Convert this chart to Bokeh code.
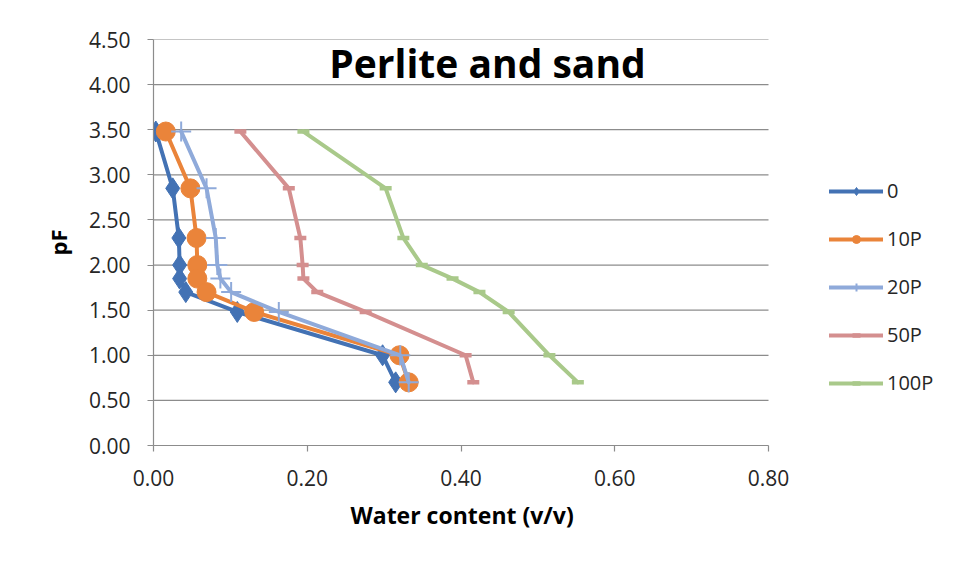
from bokeh.plotting import figure
from bokeh.models import (Legend, LegendItem, NumeralTickFormatter, FixedTicker, Range1d,
                          Label, Title, BoxAnnotation)
from bokeh.embed import file_html
from bokeh.resources import INLINE

# pF levels (y) shared by all series
pf = [3.48, 2.85, 2.30, 2.00, 1.85, 1.70, 1.48, 1.00, 0.70]

# Water content (v/v) per series
wc_0 = [0.003, 0.025, 0.033, 0.034, 0.034, 0.042, 0.109, 0.298, 0.315]
wc_10p = [0.016, 0.048, 0.056, 0.057, 0.057, 0.069, 0.131, 0.320, 0.332]
wc_20p = [0.036, 0.069, 0.081, 0.083, 0.087, 0.101, 0.163, 0.321, 0.332]
wc_50p = [0.113, 0.176, 0.191, 0.194, 0.195, 0.213, 0.276, 0.406, 0.416]
wc_100p = [0.195, 0.302, 0.325, 0.349, 0.389, 0.424, 0.462, 0.515, 0.552]

series_names = ["0", "10P", "20P", "50P", "100P"]
x_ticks = [0.0, 0.2, 0.4, 0.6, 0.8]
y_ticks = [0.0, 0.5, 1.0, 1.5, 2.0, 2.5, 3.0, 3.5, 4.0, 4.5]

colors = ["#4372B4", "#EA843A", "#8FAADA", "#D48F8F", "#A9C98A"]
markers = ["diamond", "circle", "cross", "dash", "dash"]
msizes = [21, 19, 20, 12, 12]
data = [wc_0, wc_10p, wc_20p, wc_50p, wc_100p]

FONT = "Open Sans"
X_MAX = x_ticks[-1]
# frame spans the plot plus the legend area on the right (px 153..934, 615 px per 0.8)
x_end = X_MAX * (934 - 153) / 615.0

p = figure(width=942, height=547, output_backend="svg", toolbar_location=None,
           x_range=Range1d(0, x_end), y_range=Range1d(0, 4.5),
           min_border_left=153, min_border_right=8, min_border_top=39, min_border_bottom=102)
p.outline_line_color = None
p.xgrid.grid_line_color = None
p.ygrid.grid_line_color = None

# chart-area border (top and left edges visible in the reference)
p.add_layout(BoxAnnotation(left=4, right=3000, top=8, bottom=3000,
                           left_units="canvas", right_units="canvas",
                           top_units="canvas", bottom_units="canvas",
                           fill_alpha=0, line_color="#8C8C8C", line_width=1.5))

# horizontal gridlines limited to the plotted x extent
p.segment(x0=[0.0] * (len(y_ticks) - 1), x1=[X_MAX] * (len(y_ticks) - 1),
          y0=y_ticks[1:], y1=y_ticks[1:], line_color="#8C8C8C", line_width=1.2)

for ax in (p.xaxis[0], p.yaxis[0]):
    ax.axis_line_color = "#8C8C8C"
    ax.axis_line_width = 1.2
    ax.major_tick_line_color = "#8C8C8C"
    ax.major_tick_line_width = 1.2
    ax.major_tick_in = 0
    ax.major_tick_out = 6
    ax.minor_tick_line_color = None
    ax.major_label_text_font = FONT
    ax.major_label_text_font_size = "21px"
    ax.major_label_text_color = "#262626"
    ax.axis_label_text_font = FONT
    ax.axis_label_text_font_size = "22px"
    ax.axis_label_text_font_style = "bold"
    ax.axis_label_text_color = "#000000"
    ax.formatter = NumeralTickFormatter(format="0.00")

p.xaxis.bounds = (0, X_MAX)
p.xaxis.ticker = FixedTicker(ticks=x_ticks)
p.yaxis.ticker = FixedTicker(ticks=y_ticks)
p.yaxis.axis_label = "pF"
p.xaxis.major_label_standoff = 18
p.yaxis.major_label_standoff = 17
p.yaxis.axis_label_standoff = 13

xlabel = Title(text="Water content (v/v)", align="left", offset=197, standoff=17,
               text_font=FONT, text_font_size="23px", text_font_style="bold",
               text_color="#000000")
p.add_layout(xlabel, "below")

items = []
for name, xs, c, m, s in zip(series_names, data, colors, markers, msizes):
    ln = p.line(xs, pf, line_color=c, line_width=4, line_join="round", line_cap="round")
    if m == "cross":
        sc = p.scatter(xs, pf, marker=m, size=s, line_color=c, line_width=2)
    elif m == "dash":
        sc = p.scatter(xs, pf, marker=m, size=s, line_color=c, line_width=4.5)
    else:
        sc = p.scatter(xs, pf, marker=m, size=s, fill_color=c, line_color=c)
    items.append(LegendItem(label=name, renderers=[ln, sc]))

legend = Legend(items=items, location=(676, 49), orientation="vertical",
                padding=0, margin=0, spacing=21, glyph_width=54, glyph_height=20,
                label_height=20, label_standoff=4,
                label_text_font=FONT, label_text_font_size="20px", label_text_color="#262626",
                border_line_color=None, background_fill_alpha=0)
p.add_layout(legend, "center")

title = Label(x=0.4345, y=4.246, text="Perlite and sand", text_align="center",
              text_baseline="middle", text_font=FONT, text_font_size="39px",
              text_font_style="bold", text_color="#000000")
p.add_layout(title)

open("out.html", "w").write(file_html(p, INLINE))
